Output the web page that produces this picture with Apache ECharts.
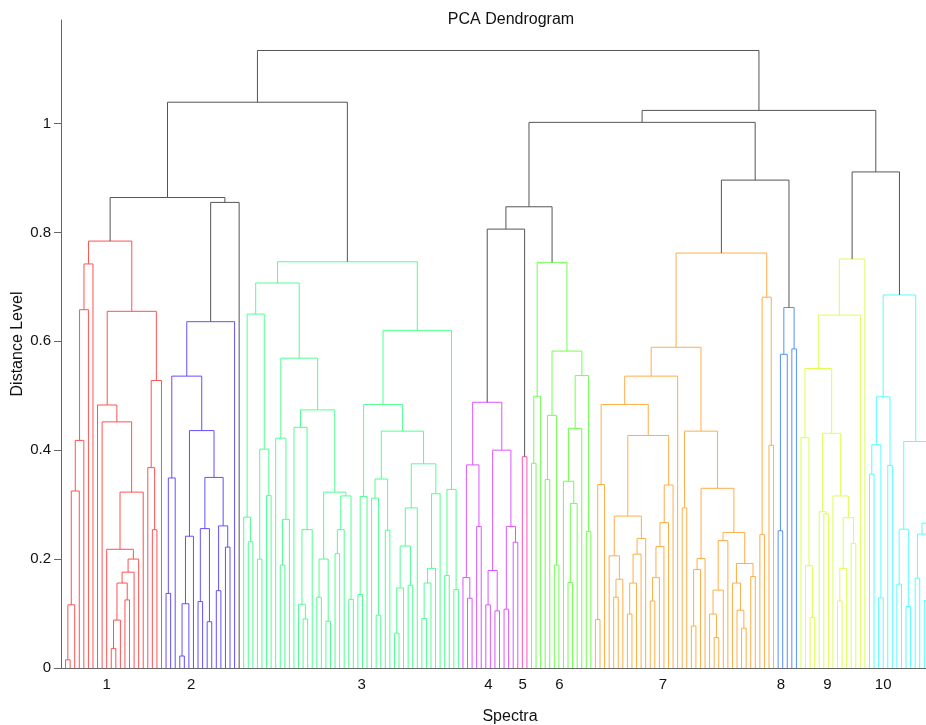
<!DOCTYPE html>
<html lang="en">
  <head>
    <meta charset="UTF-8" />
    <title>PCA Dendrogram</title>
    <script src="https://cdn.jsdelivr.net/npm/echarts@6/dist/echarts.min.js"></script>
    <style>
      html, body { margin: 0; padding: 0; background: #fff; }
      #chart { width: 926px; height: 725px; }
    </style>
  </head>
  <body>
    <div id="chart"></div>
    <script>
      // a node is [distance, left, right], a spectrum (leaf) is 0
      const cluster1 = [0.784,
        [0.742, [0.658, [0.418, [0.325, [0.116, [0.015, 0, 0], 0], 0], 0], 0], 0],
        [0.655,
          [0.483, 0, [0.452, 0, [0.323, [0.218, 0, [0.2, [0.176, [0.156, [0.088, [0.036, 0, 0], 0], [0.125, 0, 0]], 0], 0]], 0]]],
          [0.528, [0.368, 0, [0.254, 0, 0]], 0]]]
      const cluster2 = [0.636,
        [0.536, [0.349, [0.137, 0, 0], 0],
          [0.436, [0.242, [0.118, [0.022, 0, 0], 0], 0],
            [0.35, [0.256, [0.122, 0, 0], [0.085, 0, 0]], [0.261, [0.142, 0, 0], [0.222, 0, 0]]]]],
        0]
      const cluster3 = [0.746,
        [0.707,
          [0.65, [0.277, 0, [0.232, 0, 0]], [0.402, [0.2, 0, 0], [0.317, 0, 0]]],
          [0.569,
            [0.422, 0, [0.273, [0.189, 0, 0], 0]],
            [0.474,
              [0.442, 0, [0.254, [0.117, 0, [0.09, 0, 0]], 0]],
              [0.323, [0.2, [0.13, 0, 0], [0.086, 0, 0]], [0.316, [0.254, [0.21, 0, 0], 0], [0.126, 0, 0]]]]]],
        [0.62,
          [0.484,
            [0.315, [0.135, 0, 0], 0],
            [0.435,
              [0.347, [0.312, 0, [0.097, 0, 0]], [0.253, 0, 0]],
              [0.375,
                [0.294, [0.224, [0.147, [0.064, 0, 0], 0], [0.152, 0, 0]], 0],
                [0.32, [0.183, [0.156, [0.091, 0, 0], 0], 0], 0]]]],
          [0.328, [0.17, 0, 0], [0.144, 0, 0]]]]
      const cluster4 = [0.488,
        [0.373, [0.166, 0, [0.128, 0, 0]], [0.26, 0, 0]],
        [0.4, [0.179, [0.116, 0, 0], [0.105, 0, 0]], [0.26, [0.108, 0, 0], [0.231, 0, 0]]]]
      const cluster5 = [0.388, 0, 0]
      const cluster6 = [0.745,
        [0.499, [0.376, 0, 0], 0],
        [0.582, [0.464, [0.346, 0, 0], [0.189, 0, 0]],
          [0.537, [0.44, [0.343, 0, [0.302, [0.157, 0, 0], 0]], 0], [0.251, 0, 0]]]]
      const cluster7 = [0.762,
        [0.589,
          [0.536,
            [0.484,
              [0.337, [0.089, 0, 0], 0],
              [0.427,
                [0.279, [0.206, 0, [0.163, [0.13, 0, 0], 0]], [0.238, [0.209, [0.156, [0.099, 0, 0], 0], 0], 0]],
                [0.336, [0.267, [0.223, [0.166, [0.123, 0, 0], 0], 0], 0], 0]]],
            0],
          [0.435,
            [0.294, 0, 0],
            [0.33,
              [0.201, [0.181, [0.077, 0, 0], 0], 0],
              [0.249,
                [0.234, [0.143, [0.099, 0, [0.056, 0, 0]], 0], 0],
                [0.192, [0.156, 0, [0.106, 0, [0.073, 0, 0]]], [0.168, 0, 0]]]]]],
        [0.681, [0.245, 0, 0], [0.409, 0, 0]]]
      const cluster8 = [0.662, [0.576, [0.252, 0, 0], 0], [0.586, 0, 0]]
      const cluster9 = [0.751,
        [0.648,
          [0.55,
            [0.423, 0, [0.188, 0, [0.093, 0, 0]]],
            [0.431, [0.287, 0, [0.283, 0, 0]], [0.316, 0, [0.276, [0.183, [0.123, 0, 0], 0], [0.229, 0, 0]]]]],
          0],
        0]
      const cluster10 = [0.685,
        [0.498, [0.41, [0.356, 0, 0], [0.129, 0, 0]], [0.372, 0, 0]],
        [0.416, [0.255, [0.154, 0, 0], [0.113, 0, 0]], [0.266, [0.246, [0.165, 0, 0], [0.124, 0, 0]], 0]]]

      // links above the clusters: 1..10 = cluster number, 0 = a lone spectrum
      const upperTree = [1.134,
        [1.039, [0.864, 1, [0.855, 2, 0]], 3],
        [1.024, [1.002, [0.847, [0.806, 4, 5], 6], [0.896, 7, 8]], [0.911, 9, 10]]]

      const clusterNames = ['1', '2', '3', '4', '5', '6', '7', '8', '9', '10']
      const clusterLabelX = [10, 28.5, 65.8, 93.6, 101.1, 109.1, 131.8, 157.6, 167.8, 180]
      const yTicks = [0, 0.2, 0.4, 0.6, 0.8, 1]
      const leafCount = 191

      const clusterTrees = [cluster1, cluster2, cluster3, cluster4, cluster5,
        cluster6, cluster7, cluster8, cluster9, cluster10]
      const lineColors = ['#555555', '#ff5252', '#6250ff', '#50ff94', '#dc55ff', '#ff55b4',
        '#70ff50', '#ffae48', '#5590ff', '#dcff50', '#55ffff']

      // walk the tree, leaves get 1..N from left to right
      let leafNo = 0
      const links = []
      function walk(node, group) {
        if (node === 0) {
          leafNo++
          return { x: leafNo, h: 0 }
        }
        if (typeof node === 'number') return walk(clusterTrees[node - 1], node)
        const l = walk(node[1], group)
        const r = walk(node[2], group)
        links.push([l.x, l.h, r.x, r.h, node[0], group])
        return { x: (l.x + r.x) / 2, h: node[0] }
      }
      walk(upperTree, 0)

      const font = 'Liberation Sans, Arial, Helvetica, sans-serif'
      const chart = echarts.init(document.getElementById('chart'))
      chart.setOption({
        animation: false,
        backgroundColor: '#fff',
        grid: { left: 61, top: 20, width: 877, height: 648, outerBoundsMode: 'none' },
        graphic: [
          { type: 'text', x: 511, y: 20, style: { text: 'PCA Dendrogram', font: '16px ' + font, fill: '#111', textAlign: 'center', textVerticalAlign: 'middle' } },
          { type: 'text', x: 510, y: 717, style: { text: 'Spectra', font: '16px ' + font, fill: '#111', textAlign: 'center', textVerticalAlign: 'middle' } },
          { type: 'text', x: 18, y: 344, rotation: Math.PI / 2, style: { text: 'Distance Level', font: '16px ' + font, fill: '#111', textAlign: 'center', textVerticalAlign: 'middle' } }
        ],
        xAxis: {
          type: 'value',
          min: 0,
          max: leafCount + 1,
          splitLine: { show: false },
          axisLine: { show: true, lineStyle: { color: '#666', width: 1 } },
          axisTick: { show: false },
          axisLabel: {
            customValues: clusterLabelX,
            formatter: v => clusterNames[clusterLabelX.indexOf(v)],
            color: '#111',
            fontSize: 15,
            fontFamily: font,
            margin: 9
          }
        },
        yAxis: {
          type: 'value',
          min: 0,
          max: 1.19,
          splitLine: { show: false },
          axisLine: { show: true, lineStyle: { color: '#666', width: 1 } },
          axisTick: { show: true, customValues: yTicks, length: 7, lineStyle: { color: '#666' } },
          axisLabel: {
            customValues: yTicks,
            color: '#111',
            fontSize: 15,
            fontFamily: font,
            margin: 10
          }
        },
        series: [
          {
            type: 'custom',
            silent: true,
            clip: false,
            data: links,
            encode: { x: [0, 2], y: [1, 4] },
            renderItem: (params, api) => {
              const x1 = api.value(0), h1 = api.value(1)
              const x2 = api.value(2), h2 = api.value(3)
              const h = api.value(4)
              return {
                type: 'polyline',
                shape: {
                  points: [
                    api.coord([x1, h1]),
                    api.coord([x1, h]),
                    api.coord([x2, h]),
                    api.coord([x2, h2])
                  ]
                },
                style: { stroke: lineColors[api.value(5)], fill: null, lineWidth: 1 }
              }
            }
          }
        ]
      })
    </script>
  </body>
</html>
